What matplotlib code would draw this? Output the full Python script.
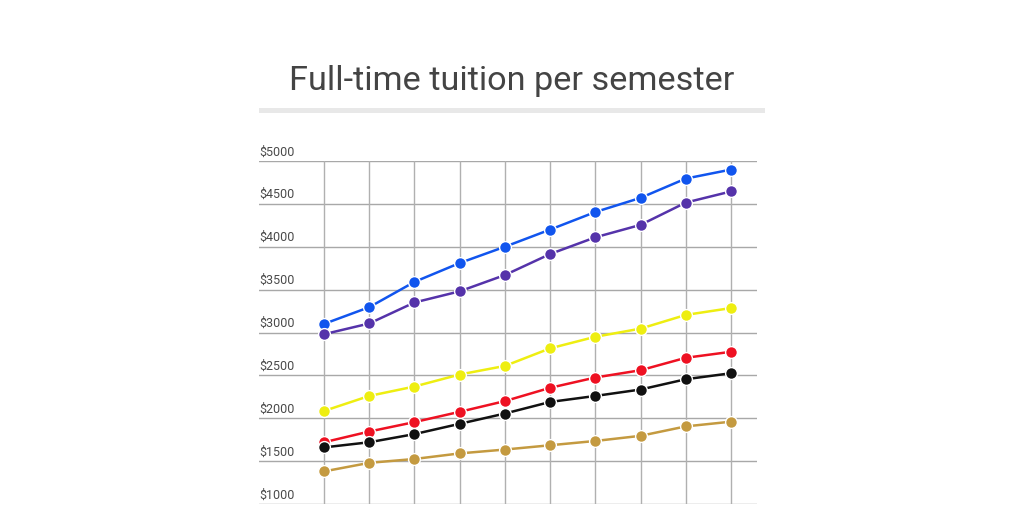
import matplotlib.pyplot as plt
import matplotlib.transforms as mtransforms

plt.rcParams['font.family'] = ['Roboto', 'DejaVu Sans']

# ten semesters / years, no axis labels shown
xs = list(range(10))

blue = [3100, 3295, 3590, 3810, 4000, 4200, 4405, 4570, 4795, 4900]
purple = [2980, 3105, 3350, 3480, 3670, 3915, 4110, 4255, 4515, 4645]
yellow = [2085, 2260, 2370, 2510, 2610, 2815, 2950, 3045, 3205, 3285]
red = [1720, 1845, 1955, 2075, 2200, 2355, 2475, 2560, 2705, 2775]
black = [1660, 1720, 1815, 1935, 2055, 2190, 2260, 2335, 2455, 2525]
gold = [1380, 1480, 1525, 1590, 1635, 1685, 1735, 1795, 1905, 1960]

series = [
    (blue, '#1155ee'),
    (purple, '#5533aa'),
    (yellow, '#eeee11'),
    (red, '#ee1122'),
    (black, '#111111'),
    (gold, '#c49a40'),
]

yticks = [1000, 1500, 2000, 2500, 3000, 3500, 4000, 4500, 5000]
ylabels = ['$' + str(v) for v in yticks]

fig = plt.figure(figsize=(10.24, 5.12), dpi=100)
ax = fig.add_axes([259 / 1024, 8 / 512, 498 / 1024, 343 / 512])
ax.set_xlim(-1.437, 9.575)
ax.set_ylim(1000, 5000)
ax.axis('off')

# grid
for v in yticks:
    ax.axhline(v, color='#a8a8a8', lw=1, zorder=1)
for x in xs:
    ax.plot([x, x], [1000, 5000], color='#b0b0b0', lw=1, zorder=1)

# y tick labels sit on top of the lines
trans = mtransforms.blended_transform_factory(ax.transAxes, ax.transData)
for v, lab in zip(yticks, ylabels):
    ax.text(0, v + 30, lab, transform=trans, ha='left', va='bottom',
            fontsize=9, color='#4a4a4a')

for ys, c in series:
    ax.plot(xs, ys, color=c, lw=1.8, marker='o', markersize=8.5,
            markeredgecolor='white', markeredgewidth=1, zorder=3, clip_on=False)

# title and the gray bar under it
fig.text(512 / 1024, 1 - 81 / 512, 'Full-time tuition per semester',
         ha='center', va='center', fontsize=24.7, color='#444444')
fig.add_artist(plt.Rectangle((259 / 1024, 1 - 112.5 / 512), 506 / 1024, 4.5 / 512,
                             transform=fig.transFigure, color='#e8e8e8', lw=0))

fig.savefig('out.png', dpi=100)
